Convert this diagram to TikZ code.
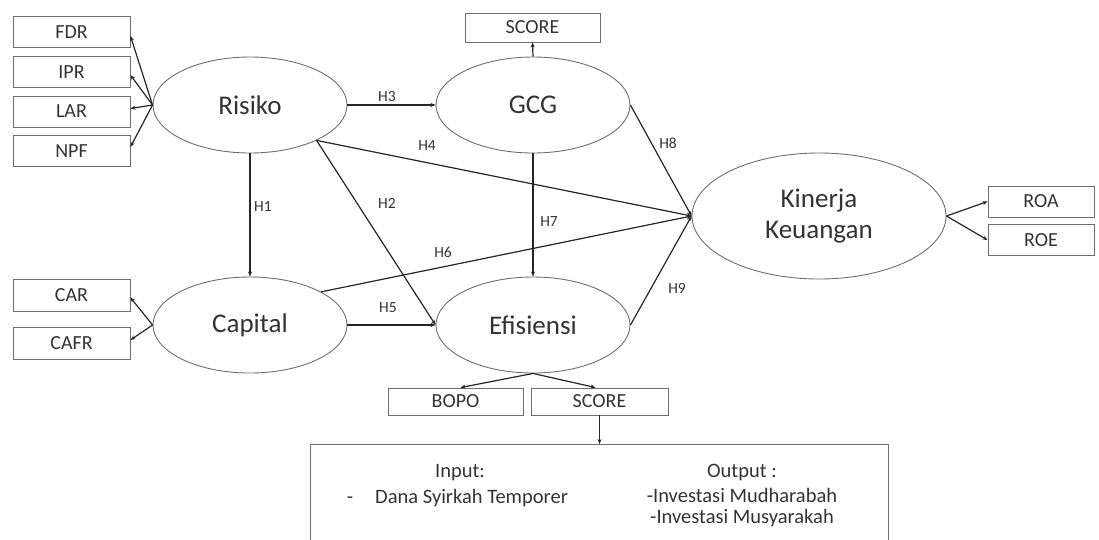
\documentclass[tikz,border=0pt]{standalone}
\usepackage{fontspec}
\setmainfont{Carlito}
\usetikzlibrary{arrows.meta,shapes.geometric,calc}
\definecolor{edgegray}{HTML}{6E6E6E}
\definecolor{linedark}{HTML}{262626}
\definecolor{txt}{HTML}{333333}
\tikzset{
  latent/.style={ellipse,draw=edgegray,line width=0.9pt,minimum width=194pt,minimum height=96pt,inner sep=0pt,text=txt,font=\fontsize{27}{31}\selectfont},
  indic/.style={rectangle,draw=edgegray,line width=0.9pt,minimum width=117pt,minimum height=31pt,inner sep=0pt,text=txt,font=\fontsize{20}{22}\selectfont},
  conn/.style={draw=linedark,line width=1.2pt,-{Stealth[length=5pt,width=4pt]}},
  hlab/.style={text=txt,font=\fontsize{15.5}{17}\selectfont,inner sep=0pt},
  btxt/.style={text=txt,font=\fontsize{20.5}{23}\selectfont,inner sep=0pt,align=center}
}
\begin{document}
\begin{tikzpicture}[x=1pt,y=-1pt]
\useasboundingbox (0,0) rectangle (1099,539);
% indicator boxes
\node[indic] (FDR) at (71.5,32) {FDR};
\node[indic] (IPR) at (71.5,72) {IPR};
\node[indic] (LAR) at (71.5,111.5) {LAR};
\node[indic] (NPF) at (71.5,151) {NPF};
\node[indic,minimum height=32pt] (CAR) at (71.5,295.5) {CAR};
\node[indic,minimum height=32pt] (CAFR) at (71.5,343) {CAFR};
\node[indic,minimum width=135pt,minimum height=29pt] (GSCORE) at (532.5,27.5) {SCORE};
\node[indic,minimum width=106pt] (ROA) at (1041,201.5) {ROA};
\node[indic,minimum width=106pt] (ROE) at (1041,240) {ROE};
\node[indic,minimum width=135pt,minimum height=27pt] (BOPO) at (455.5,401.5) {BOPO};
\node[indic,minimum width=137pt,minimum height=27pt] (ESCORE) at (599.5,401.5) {SCORE};
% latent variables
\node[latent] (Risiko) at (250,105) {Risiko};
\node[latent] (GCG) at (533,105) {GCG};
\node[latent] (Capital) at (250,325) {Capital};
\node[latent] (Efisiensi) at (533,325) {Efisiensi};
\node[latent,minimum width=254pt,minimum height=126pt,align=center] (Kinerja) at (819,216) {Kinerja\\Keuangan};
% bottom open box
\coordinate (BL) at (310,541);
\coordinate (TL) at (310,444);
\coordinate (TR) at (888,444);
\coordinate (BR) at (888,541);
\coordinate (boxtop) at (599.5,444);
\draw[edgegray,line width=0.9pt] (BL) -- (TL) -- (TR) -- (BR);
\node[btxt] (inp) at (460,473) {Input:};
\node[btxt,anchor=base] (dash) at (350,503.5) {-};
\node[btxt,anchor=base west] (dana) at (375,503.5) {Dana Syirkah Temporer};
\node[btxt] (outp) at (742,472) {Output :};
\node[btxt] (mudh) at (742,495) {-Investasi Mudharabah};
\node[btxt] (musy) at (742,518) {-Investasi Musyarakah};
% measurement arrows
\draw[conn] (Risiko.west) -- ([yshift=-4pt]FDR.east);
\draw[conn] (Risiko.west) -- ([yshift=-3pt]IPR.east);
\draw[conn] (Risiko.west) -- ([yshift=3pt]LAR.east);
\draw[conn] (Risiko.west) -- ([yshift=4pt]NPF.east);
\draw[conn] (Capital.west) -- ([yshift=-2pt]CAR.east);
\draw[conn] (Capital.west) -- ([yshift=3pt]CAFR.east);
\draw[conn] (GCG.north) -- (GSCORE.south);
\draw[conn] (Kinerja.east) -- (ROA.west);
\draw[conn] (Kinerja.east) -- (ROE.west);
\draw[conn] (Efisiensi.south) -- ([xshift=5pt]BOPO.north);
\draw[conn] (Efisiensi.south) -- ([xshift=-4pt]ESCORE.north);
\draw[conn] (ESCORE.south) -- (boxtop);
% structural paths
\draw[conn] (Risiko.south) -- (Capital.north);
\draw[conn] (Risiko.east) -- (GCG.west);
\draw[conn] (Risiko.-28) -- (Efisiensi.west);
\draw[conn] (Risiko.-28) -- (Kinerja.west);
\draw[conn] (Capital.east) -- (Efisiensi.west);
\draw[conn] (Capital.25) -- (Kinerja.west);
\draw[conn] (GCG.south) -- (Efisiensi.north);
\draw[conn] (GCG.east) -- (Kinerja.west);
\draw[conn] (Efisiensi.east) -- (Kinerja.west);
% labels
\node[hlab] (h1) at (263,207) {H1};
\node[hlab] (h2) at (387,203) {H2};
\node[hlab] (h3) at (387,97) {H3};
\node[hlab] (h4) at (427,146) {H4};
\node[hlab] (h5) at (388,308) {H5};
\node[hlab] (h6) at (443,252) {H6};
\node[hlab] (h7) at (549,222) {H7};
\node[hlab] (h8) at (668,143) {H8};
\node[hlab] (h9) at (677,288) {H9};
\end{tikzpicture}
\end{document}
